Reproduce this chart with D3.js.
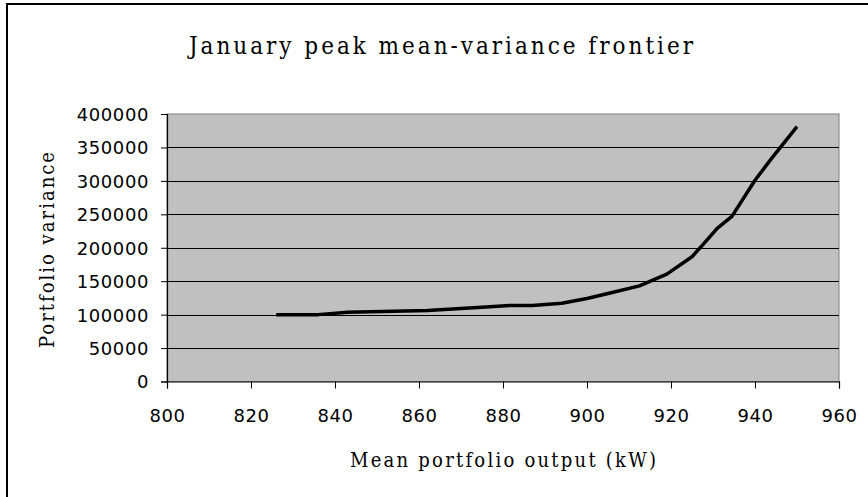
<!DOCTYPE html>
<html>
<head>
<meta charset="utf-8">
<script src="https://cdn.jsdelivr.net/npm/d3@7"></script>
<style>
  body { margin: 0; background: #fff; }
  svg { display: block; }
  .tick text { font-family: "DejaVu Sans", sans-serif; font-size: 18px; fill: #000; }
  .ttl { font-family: "DejaVu Serif", serif; font-stretch: condensed; fill: #000; }
</style>
</head>
<body>
<script>
// mean portfolio output (kW) and portfolio variance
var meanOutput = [826, 836, 843, 862, 875, 881.5, 887, 894, 900, 906, 912.5, 919, 925, 927.5, 931, 934.5, 940, 944, 950];
var variance = [100000, 100000, 103500, 106000, 111000, 113500, 113500, 117000, 124000, 133000, 143000, 160500, 186500, 204000, 229000, 247000, 301000, 334000, 381000];
var xTicks = [800, 820, 840, 860, 880, 900, 920, 940, 960];
var yTicks = [0, 50000, 100000, 150000, 200000, 250000, 300000, 350000, 400000];

var svgWidth = 868, svgHeight = 497;
var margin = {top: 114, right: 29, bottom: 115.5, left: 167};
var width = svgWidth - margin.left - margin.right;
var height = svgHeight - margin.top - margin.bottom;

var svg = d3.select("body").append("svg")
    .attr("width", svgWidth)
    .attr("height", svgHeight);

// outer chart border (only top and left show, the picture is cropped)
svg.append("path")
    .attr("d", "M7,500 V4 H870")
    .attr("fill", "none")
    .attr("stroke", "#000")
    .attr("stroke-width", 2);

var chartGroup = svg.append("g").attr("transform", `translate(${margin.left}, ${margin.top})`);

var x = d3.scaleLinear().domain([800, 960]).range([0, width]);
var y = d3.scaleLinear().domain([0, 400000]).range([height, 0]);

// plot area
chartGroup.append("rect")
    .attr("width", width)
    .attr("height", height)
    .attr("fill", "#c0c0c0")
    .attr("stroke", "#808080")
    .attr("stroke-width", 1);

// gridlines
chartGroup.selectAll("line.grid")
    .data(yTicks.filter(d => d > 0 && d < 400000))
    .enter().append("line")
    .attr("class", "grid")
    .attr("x1", 0).attr("x2", width)
    .attr("y1", d => Math.round(y(d)) + 0.5)
    .attr("y2", d => Math.round(y(d)) + 0.5)
    .attr("stroke", "#000")
    .attr("stroke-width", 1);

// axes
var xAxis = d3.axisBottom(x).tickValues(xTicks).tickSize(7).tickPadding(21).tickFormat(d3.format("d"));
var yAxis = d3.axisLeft(y).tickValues(yTicks).tickSize(6).tickPadding(12).tickFormat(d3.format("d"));

var gx = chartGroup.append("g")
    .attr("transform", `translate(0, ${height})`)
    .call(xAxis);
var gy = chartGroup.append("g").call(yAxis);

[gx, gy].forEach(function(g) {
    g.select(".domain").attr("stroke", "#000").attr("stroke-width", 1.2);
    g.selectAll(".tick line").attr("stroke", "#000");
    g.selectAll(".tick text").attr("letter-spacing", "0.6px");
});
gy.selectAll(".tick text").attr("dy", "0.36em");

// frontier line
var line = d3.line()
    .x((d, i) => x(meanOutput[i]))
    .y(d => y(d));

chartGroup.append("path")
    .datum(variance)
    .attr("d", line)
    .attr("fill", "none")
    .attr("stroke", "#000")
    .attr("stroke-width", 3.5)
    .attr("stroke-linejoin", "round");

// titles
svg.append("text")
    .attr("class", "ttl")
    .attr("x", 441).attr("y", 54)
    .attr("text-anchor", "middle")
    .attr("font-size", 24)
    .attr("textLength", 504)
    .attr("lengthAdjust", "spacing")
    .text("January peak mean-variance frontier");

svg.append("text")
    .attr("class", "ttl")
    .attr("x", 503).attr("y", 467)
    .attr("text-anchor", "middle")
    .attr("font-size", 20)
    .attr("textLength", 306)
    .attr("lengthAdjust", "spacing")
    .text("Mean portfolio output (kW)");

svg.append("text")
    .attr("class", "ttl")
    .attr("transform", "translate(54, 250) rotate(-90)")
    .attr("text-anchor", "middle")
    .attr("font-size", 20)
    .attr("textLength", 196)
    .attr("lengthAdjust", "spacing")
    .text("Portfolio variance");
</script>
</body>
</html>
